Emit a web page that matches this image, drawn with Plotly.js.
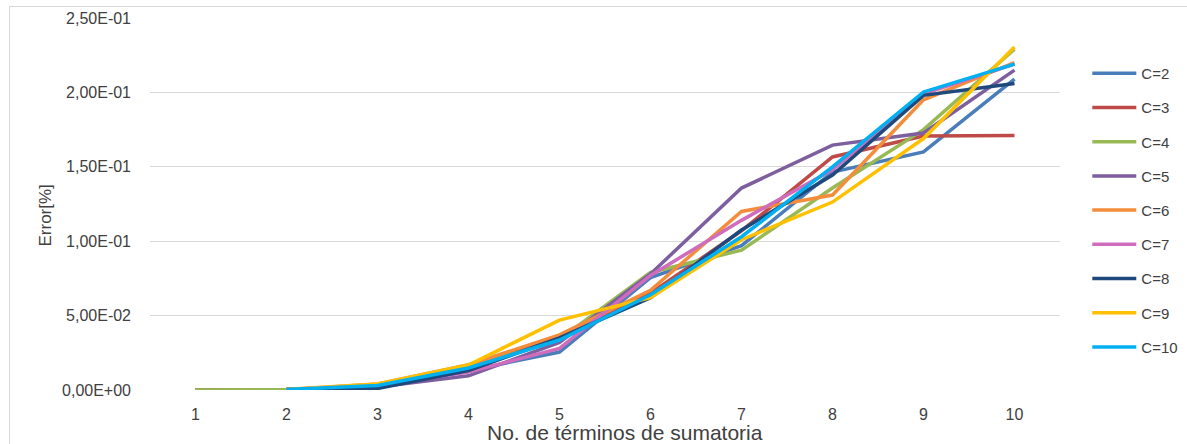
<!DOCTYPE html>
<html>
<head>
<meta charset="utf-8">
<script src="https://cdn.plot.ly/plotly-3.0.1.min.js"></script>
<style>
  html, body { margin: 0; padding: 0; background: #fff; }
  #frame { position: absolute; left: 9px; top: 6px; width: 1300px; height: 600px;
           border-left: 1px solid #d9d9d9; border-top: 1px solid #d9d9d9; }
  #chart { position: absolute; left: 0; top: 0; width: 1187px; height: 444px; }
</style>
</head>
<body>
<div id="frame"></div>
<div id="chart"></div>
<script>
const terms = [1, 2, 3, 4, 5, 6, 7, 8, 9, 10];
const seriesNames = ["C=2", "C=3", "C=4", "C=5", "C=6", "C=7", "C=8", "C=9", "C=10"];
const seriesColors = ["#4a7ebb", "#be4b48", "#98b954", "#7d5fa0", "#f38d3c", "#cf6cbc", "#1f497d", "#ffc000", "#00b0f0"];

const c2  = [0, 0.0003, 0.002, 0.013,  0.0255, 0.0755, 0.097,  0.1465, 0.160,  0.209];
const c3  = [0, 0.0003, 0.003, 0.016,  0.036,  0.065,  0.107,  0.1566, 0.1707, 0.1711];
const c4  = [0, 0.0003, 0.003, 0.015,  0.034,  0.079,  0.094,  0.1357, 0.175,  0.229];
const c5  = [null, 0.0003, 0.002, 0.0095, 0.032, 0.078,  0.1357, 0.1646, 0.1727, 0.215];
const c6  = [null, 0.0003, 0.004, 0.017,  0.037, 0.067,  0.120,  0.131,  0.195,  0.220];
const c7  = [null, 0.0003, 0.003, 0.012,  0.028, 0.077,  0.114,  0.148,  0.199,  0.219];
const c8  = [null, 0.0003, 0.001, 0.013,  0.035, 0.062,  0.1075, 0.1445, 0.198,  0.206];
const c9  = [null, 0.0003, 0.004, 0.0168, 0.047, 0.062,  0.101,  0.1263, 0.169,  0.2305];
const c10 = [null, 0.0003, 0.003, 0.0148, 0.0336, 0.064, 0.103,  0.150,  0.2003, 0.219];

const seriesValues = [c2, c3, c4, c5, c6, c7, c8, c9, c10];

const yTickVals = [0, 0.05, 0.10, 0.15, 0.20, 0.25];
const yTickText = ["0,00E+00", "5,00E-02", "1,00E-01", "1,50E-01", "2,00E-01", "2,50E-01"];
const xTickText = ["1", "2", "3", "4", "5", "6", "7", "8", "9", "10"];

const FONT = "Liberation Sans, Arial, sans-serif";

const traces = seriesNames.map((name, i) => ({
  type: "scatter",
  mode: "lines",
  name: name,
  x: terms,
  y: seriesValues[i],
  legendgroup: "g" + i,
  line: { color: seriesColors[i], width: 3.5 },
  hoverinfo: "skip"
}));

const layout = {
  width: 1187,
  height: 444,
  margin: { l: 150, r: 127, t: 18, b: 54, autoexpand: false },
  paper_bgcolor: "rgba(0,0,0,0)",
  plot_bgcolor: "rgba(0,0,0,0)",
  font: { family: FONT, size: 15, color: "#404040" },
  showlegend: true,
  legend: {
    x: 1.030, xanchor: "left",
    y: 0.895, yanchor: "top",
    font: { family: FONT, size: 15, color: "#404040" },
    traceorder: "grouped",
    tracegroupgap: 11.7,
    itemwidth: 44,
    bgcolor: "rgba(0,0,0,0)"
  },
  xaxis: {
    type: "linear",
    range: [0.5, 10.5],
    tickvals: terms,
    ticktext: xTickText,
    showgrid: false,
    zeroline: false,
    showline: false,
    ticks: "",
    tickfont: { family: FONT, size: 16, color: "#404040" },
    ticklabelstandoff: 13
  },
  yaxis: {
    range: [0, 0.25],
    tickvals: yTickVals,
    ticktext: yTickText,
    showgrid: true,
    gridcolor: "#d9d9d9",
    gridwidth: 1.3,
    zeroline: false,
    showline: false,
    ticks: "",
    tickfont: { family: FONT, size: 16, color: "#404040" },
    ticklabelstandoff: 18
  },
  annotations: [
    {
      text: "No. de términos de sumatoria",
      xref: "paper", yref: "paper",
      x: 0.522, y: -0.113,
      xanchor: "center", yanchor: "middle",
      showarrow: false,
      font: { family: FONT, size: 21, color: "#404040" }
    },
    {
      text: "Error[%]",
      xref: "paper", yref: "paper",
      x: -0.115, y: 0.47,
      xanchor: "center", yanchor: "middle",
      textangle: -90,
      showarrow: false,
      font: { family: FONT, size: 17, color: "#404040" }
    }
  ]
};

Plotly.newPlot("chart", traces, layout, { staticPlot: true, displayModeBar: false });
</script>
</body>
</html>
